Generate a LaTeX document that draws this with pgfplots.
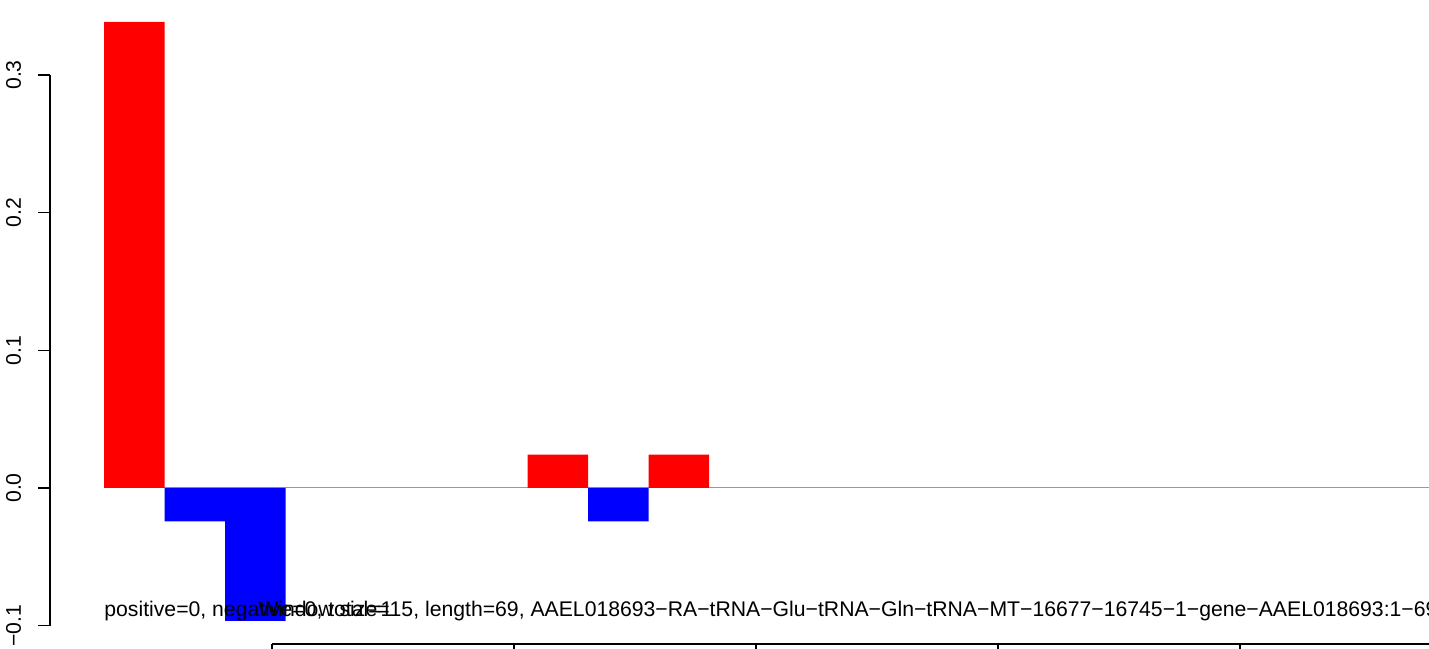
\documentclass[border=0pt]{standalone}
\usepackage{fontspec}
\setmainfont{Liberation Sans}
\usepackage{pgfplots}
\pgfplotsset{compat=1.18}
\begin{document}
\begin{tikzpicture}
\begin{axis}[
  width=714.5pt, height=324pt, scale only axis,
  at={(0,0)}, anchor=south west,
  xmin=-1.7190, xmax=21.901,
  ymin=-0.11622, ymax=0.35447,
  axis line style={draw=none},
  xtick=\empty,
  ytick={-0.1,0,0.1,0.2,0.3},
  yticklabels={−0.1,0.0,0.1,0.2,0.3},
  major tick length=0pt,
  tick style={draw=none},
  yticklabel style={xshift=6.75pt, rotate=90, anchor=center, inner sep=0pt, font=\fontsize{10.6}{12}\selectfont},
  clip=true,
]
% zero line
\addplot[gray!80, line width=0.5pt, forget plot] coordinates {(0,0) (22.5,0)};
% positive bars
\addplot[ybar, bar width=1, bar shift=0pt, fill=red, draw=none] coordinates {
 (0.5,0.3385) (7.5,0.0242) (9.5,0.0242)};
% negative bars
\addplot[ybar, bar width=1, bar shift=0pt, fill=blue, draw=none] coordinates {
 (1.5,-0.0242) (2.5,-0.0966) (8.5,-0.0242)};
% y axis line and ticks
\draw[black, line width=0.6pt] (axis cs:-0.8926,-0.1) -- (axis cs:-0.8926,0.3);
\draw[black, line width=0.6pt] (axis cs:-0.8926,-0.1) -- (axis cs:-1.0910,-0.1);
\draw[black, line width=0.6pt] (axis cs:-0.8926,0) -- (axis cs:-1.0910,0);
\draw[black, line width=0.6pt] (axis cs:-0.8926,0.1) -- (axis cs:-1.0910,0.1);
\draw[black, line width=0.6pt] (axis cs:-0.8926,0.2) -- (axis cs:-1.0910,0.2);
\draw[black, line width=0.6pt] (axis cs:-0.8926,0.3) -- (axis cs:-1.0910,0.3);
% bottom axis line and ticks
\draw[black, line width=0.6pt] (axis cs:2.777,-0.11332) -- (axis cs:22.5,-0.11332);
\draw[black, line width=0.6pt] (axis cs:2.777,-0.11332) -- (axis cs:2.777,-0.13);
\draw[black, line width=0.6pt] (axis cs:6.777,-0.11332) -- (axis cs:6.777,-0.13);
\draw[black, line width=0.6pt] (axis cs:10.777,-0.11332) -- (axis cs:10.777,-0.13);
\draw[black, line width=0.6pt] (axis cs:14.777,-0.11332) -- (axis cs:14.777,-0.13);
\draw[black, line width=0.6pt] (axis cs:18.777,-0.11332) -- (axis cs:18.777,-0.13);
% texts
\node[anchor=base west, inner sep=0pt, font=\fontsize{10.6}{12}\selectfont] at (axis cs:0,-0.0935) {positive=0, negative=0, total=1};
\node[anchor=base west, inner sep=0pt, font=\fontsize{10.6}{12}\selectfont] at (axis cs:2.545,-0.0935) {Window size=15, length=69, AAEL018693−RA−tRNA−Glu−tRNA−Gln−tRNA−MT−16677−16745−1−gene−AAEL018693:1−69};
\end{axis}
\pgfresetboundingbox
\useasboundingbox (0,0) rectangle (714.5pt,324pt);
\end{tikzpicture}
\end{document}
